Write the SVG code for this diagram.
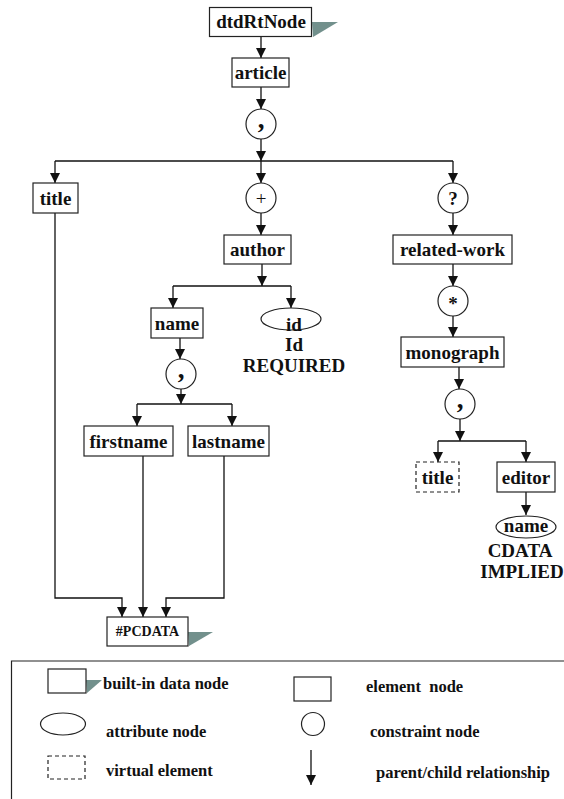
<svg xmlns="http://www.w3.org/2000/svg" width="564" height="799" viewBox="0 0 564 799">
<style>
.box{fill:#fff;stroke:#222;stroke-width:1.2}
.dash{fill:#fff;stroke:#222;stroke-width:1.2;stroke-dasharray:4 3}
.sh{fill:#72908c}
.t{font-family:"Liberation Serif","Times New Roman",serif;font-weight:bold;font-size:19px;fill:#111;text-anchor:middle}
.s{font-size:14px}
.op{font-size:27px}
.lg{font-family:"Liberation Serif","Times New Roman",serif;font-weight:bold;font-size:16.5px;fill:#111}
.c{fill:none;stroke:#111;stroke-width:1.3}
</style>
<defs>
<marker id="ah" viewBox="0 0 10 10" refX="10" refY="5" markerWidth="10" markerHeight="10" markerUnits="userSpaceOnUse" orient="auto">
<path d="M0,0 L10,5 L0,10 z" fill="#111"/>
</marker>
</defs>

<g id="connectors" class="c">
<path d="M261,36 V58" marker-end="url(#ah)"/>
<path d="M261,87 V109" marker-end="url(#ah)"/>
<path d="M261,139 V161" marker-end="url(#ah)"/>
<path d="M55,161 H453"/>
<path d="M55,161 V183" marker-end="url(#ah)"/>
<path d="M261,161 V183" marker-end="url(#ah)"/>
<path d="M453,161 V183" marker-end="url(#ah)"/>
<path d="M261,213 V235" marker-end="url(#ah)"/>
<path d="M453,213 V235" marker-end="url(#ah)"/>
<path d="M262,264 V286" marker-end="url(#ah)"/>
<path d="M173,286 H291"/>
<path d="M173,286 V308" marker-end="url(#ah)"/>
<path d="M291,286 V308" marker-end="url(#ah)"/>
<path d="M180,338 V359" marker-end="url(#ah)"/>
<path d="M181,389 V404" marker-end="url(#ah)"/>
<path d="M137,404 H232"/>
<path d="M137,404 V426" marker-end="url(#ah)"/>
<path d="M232,404 V426" marker-end="url(#ah)"/>
<path d="M453,264 V286" marker-end="url(#ah)"/>
<path d="M453,316 V337" marker-end="url(#ah)"/>
<path d="M459,367 V389" marker-end="url(#ah)"/>
<path d="M460,419 V441" marker-end="url(#ah)"/>
<path d="M438,441 H526"/>
<path d="M438,441 V462" marker-end="url(#ah)"/>
<path d="M526,441 V462" marker-end="url(#ah)"/>
<path d="M526,492 V515" marker-end="url(#ah)"/>
<path d="M55,213 V598 H122 V617" marker-end="url(#ah)"/>
<path d="M143,456 V617" marker-end="url(#ah)"/>
<path d="M224,456 V598 H166 V617" marker-end="url(#ah)"/>
</g>

<g id="dtdRtNode">
<polygon class="sh" points="312,22 338,22 313,37"/>
<rect class="box" x="209.5" y="7.5" width="102" height="29"/>
<text class="t" x="261" y="28">dtdRtNode</text>
</g>
<g id="article">
<rect class="box" x="232" y="58" width="57" height="29"/>
<text class="t" x="260.5" y="79">article</text>
</g>
<g id="seq1">
<circle class="box" cx="261" cy="124" r="15"/>
<text class="t op" x="261" y="128">,</text>
</g>
<g id="title1">
<rect class="box" x="33" y="183" width="45" height="30"/>
<text class="t" x="55.5" y="205">title</text>
</g>
<g id="plus">
<circle class="box" cx="261" cy="198" r="15"/>
<text class="t" x="261" y="205" style="font-weight:normal">+</text>
</g>
<g id="opt">
<circle class="box" cx="453" cy="198" r="15"/>
<text class="t" x="453" y="205">?</text>
</g>
<g id="author">
<rect class="box" x="224" y="235" width="67" height="29"/>
<text class="t" x="257.5" y="256">author</text>
</g>
<g id="related-work">
<rect class="box" x="393" y="235" width="119" height="29"/>
<text class="t" x="452.5" y="256">related-work</text>
</g>
<g id="name">
<rect class="box" x="151" y="308" width="52" height="30"/>
<text class="t" x="177" y="330">name</text>
</g>
<g id="id-attr">
<ellipse class="box" cx="291" cy="319" rx="30" ry="11"/>
<text class="t" x="294" y="331">id</text>
<text class="t" x="294" y="351">Id</text>
<text class="t" x="294" y="372">REQUIRED</text>
</g>
<g id="seq2">
<circle class="box" cx="181" cy="374" r="15"/>
<text class="t op" x="181" y="378">,</text>
</g>
<g id="firstname">
<rect class="box" x="84" y="426" width="89" height="30"/>
<text class="t" x="128.5" y="448">firstname</text>
</g>
<g id="lastname">
<rect class="box" x="188" y="426" width="81" height="30"/>
<text class="t" x="228.5" y="448">lastname</text>
</g>
<g id="star">
<circle class="box" cx="453" cy="301" r="15"/>
<text class="t" x="453" y="310">*</text>
</g>
<g id="monograph">
<rect class="box" x="401" y="337" width="103" height="30"/>
<text class="t" x="452.5" y="359">monograph</text>
</g>
<g id="seq3">
<circle class="box" cx="460" cy="404" r="15"/>
<text class="t op" x="460" y="408">,</text>
</g>
<g id="title2">
<rect class="dash" x="416" y="462" width="43" height="30"/>
<text class="t" x="437.5" y="484">title</text>
</g>
<g id="editor">
<rect class="box" x="497" y="462" width="58" height="30"/>
<text class="t" x="526" y="484">editor</text>
</g>
<g id="name-attr">
<ellipse class="box" cx="526" cy="527" rx="30" ry="11"/>
<text class="t" x="526" y="532">name</text>
<text class="t" x="520" y="557">CDATA</text>
<text class="t" x="522" y="578">IMPLIED</text>
</g>
<g id="pcdata">
<polygon class="sh" points="188,632 213,632 189,646"/>
<rect class="box" x="107" y="617" width="81" height="29"/>
<text class="t s" x="147.5" y="636">#PCDATA</text>
</g>

<g id="legend">
<path d="M564,661 H11.5 V799" fill="none" stroke="#222" stroke-width="1.2"/>
<polygon class="sh" points="86,680 102,680 87,693"/>
<rect class="box" x="48" y="669" width="38" height="24"/>
<text class="lg" x="103" y="689">built-in data node</text>
<rect class="box" x="294" y="677" width="37" height="24"/>
<text class="lg" x="366" y="692" xml:space="preserve">element  node</text>
<ellipse class="box" cx="63" cy="724" rx="22.5" ry="11"/>
<text class="lg" x="106" y="737">attribute node</text>
<circle class="box" cx="313" cy="724" r="11.5"/>
<text class="lg" x="370" y="737">constraint node</text>
<rect class="dash" x="48" y="756" width="37" height="23"/>
<text class="lg" x="106" y="776">virtual element</text>
<path class="c" d="M311,750 V785" marker-end="url(#ah)"/>
<text class="lg" x="376" y="778">parent/child relationship</text>
</g>
</svg>
